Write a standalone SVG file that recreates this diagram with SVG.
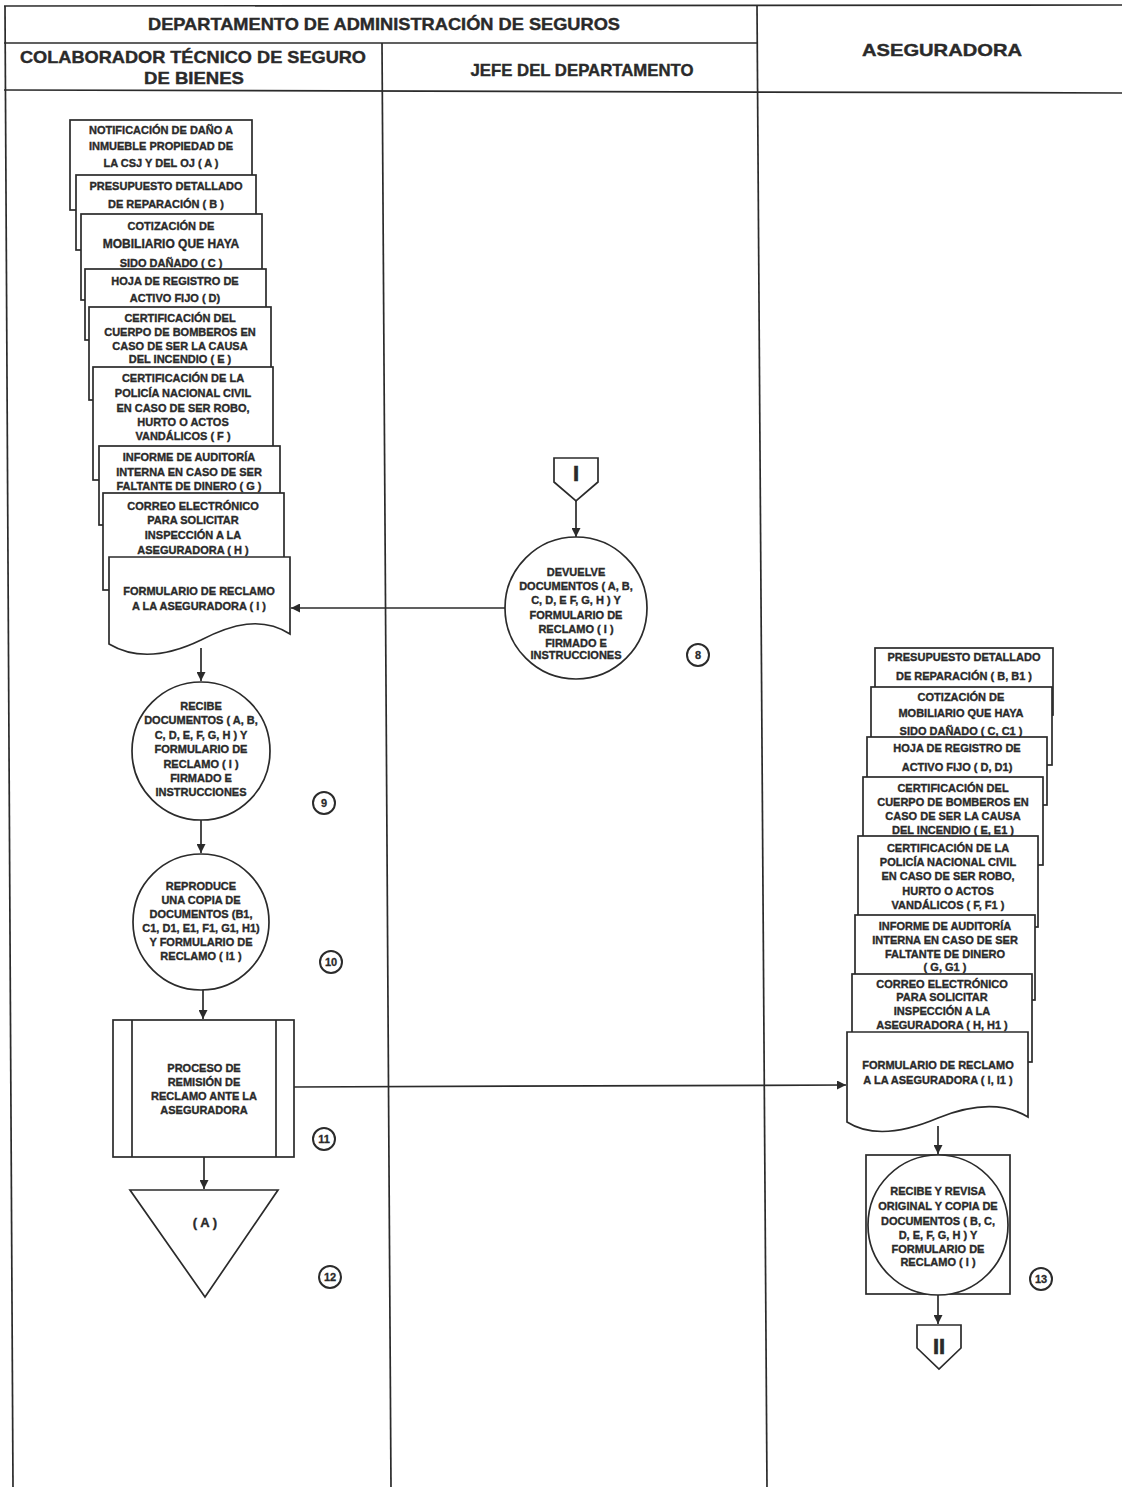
<svg xmlns="http://www.w3.org/2000/svg" width="1122" height="1487" viewBox="0 0 1122 1487">
<style>
.bg{fill:#fff}
.ln{stroke:#2b2b2b;stroke-width:1.7;fill:none}
.shp{stroke:#2b2b2b;stroke-width:1.7;fill:#fff}
.num{stroke:#2b2b2b;stroke-width:2;fill:#fff}
.hd{font-family:"Liberation Sans",Arial,sans-serif;font-weight:bold;font-size:17px;fill:#2a2a2a;stroke:#2a2a2a;stroke-width:0.4;text-anchor:middle}
.t{font-family:"Liberation Sans",Arial,sans-serif;font-weight:bold;font-size:11px;fill:#2a2a2a;stroke:#2a2a2a;stroke-width:0.35;text-anchor:middle}
.n{font-family:"Liberation Sans",Arial,sans-serif;font-weight:bold;font-size:11px;fill:#2a2a2a;stroke:#2a2a2a;stroke-width:0.3;text-anchor:middle}
.big{font-family:"Liberation Sans",Arial,sans-serif;font-weight:bold;font-size:22px;fill:#2a2a2a;stroke:#2a2a2a;stroke-width:0.6;text-anchor:middle}
.cn{stroke:#2b2b2b;stroke-width:1.7;fill:none}
</style>
<defs>
<marker id="ah" viewBox="0 0 10 10" refX="10" refY="5" markerWidth="9" markerHeight="9" orient="auto" markerUnits="userSpaceOnUse">
<path d="M0,0 L10,5 L0,10 Z" fill="#2b2b2b"/>
</marker>
</defs>
<rect class="bg" x="0" y="0" width="1122" height="1487"/>

<g id="lanes">
<line class="ln" x1="4" y1="6" x2="1122" y2="5"/>
<line class="ln" x1="4" y1="43" x2="757" y2="43"/>
<line class="ln" x1="4" y1="90" x2="1122" y2="93"/>
<line class="ln" x1="5" y1="6" x2="13" y2="1487"/>
<line class="ln" x1="382" y1="43" x2="391" y2="1487"/>
<line class="ln" x1="757" y1="5" x2="767" y2="1487"/>
<text class="hd" x="384" y="30" textLength="472" lengthAdjust="spacingAndGlyphs">DEPARTAMENTO DE ADMINISTRACIÓN DE SEGUROS</text>
<text class="hd" x="193" y="63" textLength="346" lengthAdjust="spacingAndGlyphs">COLABORADOR TÉCNICO DE SEGURO</text>
<text class="hd" x="194" y="84" textLength="100" lengthAdjust="spacingAndGlyphs">DE BIENES</text>
<text class="hd" x="582" y="76" textLength="223" lengthAdjust="spacingAndGlyphs">JEFE DEL DEPARTAMENTO</text>
<text class="hd" x="942" y="56" textLength="160" lengthAdjust="spacingAndGlyphs">ASEGURADORA</text>
</g>

<g id="connectors">
<line class="cn" x1="576" y1="501" x2="576" y2="537" marker-end="url(#ah)"/>
<line class="cn" x1="505" y1="608" x2="291" y2="608" marker-end="url(#ah)"/>
<line class="cn" x1="201" y1="648" x2="201" y2="681" marker-end="url(#ah)"/>
<line class="cn" x1="201" y1="820" x2="201" y2="853" marker-end="url(#ah)"/>
<line class="cn" x1="203" y1="990" x2="203" y2="1019" marker-end="url(#ah)"/>
<line class="cn" x1="204" y1="1157" x2="204" y2="1189" marker-end="url(#ah)"/>
<line class="cn" x1="294" y1="1087" x2="846" y2="1085" marker-end="url(#ah)"/>
<line class="cn" x1="938" y1="1126" x2="938" y2="1154" marker-end="url(#ah)"/>
<line class="cn" x1="938" y1="1294" x2="938" y2="1324" marker-end="url(#ah)"/>
</g>

<g id="docs-left">
<g id="docA"><rect class="shp" x="70" y="120" width="182" height="90"/>
<text class="t" x="161" y="134">NOTIFICACIÓN DE DAÑO A</text><text class="t" x="161" y="150">INMUEBLE PROPIEDAD DE</text><text class="t" x="161" y="167">LA CSJ Y DEL OJ ( A )</text></g>
<g id="docB"><rect class="shp" x="76" y="175" width="180" height="75"/>
<text class="t" x="166" y="190">PRESUPUESTO DETALLADO</text><text class="t" x="166" y="208">DE REPARACIÓN ( B )</text></g>
<g id="docC"><rect class="shp" x="81" y="214" width="181" height="86"/>
<text class="t" x="171" y="230">COTIZACIÓN DE</text><text class="t" x="171" y="248" style="font-size:12px">MOBILIARIO QUE HAYA</text><text class="t" x="171" y="267">SIDO DAÑADO ( C )</text></g>
<g id="docD"><rect class="shp" x="85" y="269" width="181" height="71"/>
<text class="t" x="175" y="285">HOJA DE REGISTRO DE</text><text class="t" x="175" y="302">ACTIVO FIJO ( D)</text></g>
<g id="docE"><rect class="shp" x="89" y="307" width="182" height="93"/>
<text class="t" x="180" y="322">CERTIFICACIÓN DEL</text><text class="t" x="180" y="336">CUERPO DE BOMBEROS EN</text><text class="t" x="180" y="350">CASO DE SER LA CAUSA</text><text class="t" x="180" y="363">DEL INCENDIO ( E )</text></g>
<g id="docF"><rect class="shp" x="93" y="367" width="180" height="113"/>
<text class="t" x="183" y="382">CERTIFICACIÓN DE LA</text><text class="t" x="183" y="397">POLICÍA NACIONAL CIVIL</text><text class="t" x="183" y="412">EN CASO DE SER ROBO,</text><text class="t" x="183" y="426">HURTO O ACTOS</text><text class="t" x="183" y="440">VANDÁLICOS ( F )</text></g>
<g id="docG"><rect class="shp" x="99" y="446" width="181" height="79"/>
<text class="t" x="189" y="461">INFORME DE AUDITORÍA</text><text class="t" x="189" y="476">INTERNA EN CASO DE SER</text><text class="t" x="189" y="490">FALTANTE DE DINERO ( G )</text></g>
<g id="docH"><rect class="shp" x="103" y="493" width="181" height="97"/>
<text class="t" x="193" y="510">CORREO ELECTRÓNICO</text><text class="t" x="193" y="524">PARA SOLICITAR</text><text class="t" x="193" y="539">INSPECCIÓN A LA</text><text class="t" x="193" y="554">ASEGURADORA ( H )</text></g>
<g id="docI"><path class="shp" d="M109,557 H290 V634 C262,616 232,624 201,640 C168,656 136,660 109,644 Z"/>
<text class="t" x="199" y="595">FORMULARIO DE RECLAMO</text><text class="t" x="199" y="610">A LA ASEGURADORA ( I )</text></g>
</g>

<g id="conn-I">
<path class="shp" d="M554,458 H598 V482 L576,501 L554,482 Z"/>
<text class="big" x="576" y="481">I</text>
</g>

<g id="step8">
<circle class="shp" cx="576" cy="608" r="71"/>
<text class="t" x="576" y="576">DEVUELVE</text><text class="t" x="576" y="590">DOCUMENTOS ( A, B,</text><text class="t" x="576" y="604">C, D, E F, G, H ) Y</text><text class="t" x="576" y="619">FORMULARIO DE</text><text class="t" x="576" y="633">RECLAMO ( I )</text><text class="t" x="576" y="647">FIRMADO E</text><text class="t" x="576" y="659">INSTRUCCIONES</text>
<circle class="num" cx="698" cy="655" r="11"/><text class="n" x="698" y="659">8</text>
</g>

<g id="step9">
<circle class="shp" cx="201" cy="751" r="69"/>
<text class="t" x="201" y="710">RECIBE</text><text class="t" x="201" y="724">DOCUMENTOS ( A, B,</text><text class="t" x="201" y="739">C, D, E, F, G, H ) Y</text><text class="t" x="201" y="753">FORMULARIO DE</text><text class="t" x="201" y="768">RECLAMO ( I )</text><text class="t" x="201" y="782">FIRMADO E</text><text class="t" x="201" y="796">INSTRUCCIONES</text>
<circle class="num" cx="324" cy="803" r="11"/><text class="n" x="324" y="807">9</text>
</g>

<g id="step10">
<circle class="shp" cx="201" cy="922" r="68"/>
<text class="t" x="201" y="890">REPRODUCE</text><text class="t" x="201" y="904">UNA COPIA DE</text><text class="t" x="201" y="918">DOCUMENTOS (B1,</text><text class="t" x="201" y="932">C1, D1, E1, F1, G1, H1)</text><text class="t" x="201" y="946">Y FORMULARIO DE</text><text class="t" x="201" y="960">RECLAMO ( I1 )</text>
<circle class="num" cx="331" cy="962" r="11"/><text class="n" x="331" y="966">10</text>
</g>

<g id="step11">
<rect class="shp" x="113" y="1020" width="181" height="137"/>
<line class="ln" x1="132" y1="1020" x2="132" y2="1157"/>
<line class="ln" x1="276" y1="1020" x2="276" y2="1157"/>
<text class="t" x="204" y="1072">PROCESO DE</text><text class="t" x="204" y="1086">REMISIÓN DE</text><text class="t" x="204" y="1100">RECLAMO ANTE LA</text><text class="t" x="204" y="1114">ASEGURADORA</text>
<circle class="num" cx="324" cy="1139" r="11"/><text class="n" x="324" y="1143">11</text>
</g>

<g id="step12">
<path class="shp" d="M130,1190 H278 L205,1297 Z"/>
<text class="t" x="205" y="1227" style="font-size:13px">( A )</text>
<circle class="num" cx="330" cy="1277" r="11"/><text class="n" x="330" y="1281">12</text>
</g>

<g id="docs-right">
<g id="rdocB"><rect class="shp" x="875" y="648" width="178" height="67"/>
<text class="t" x="964" y="661">PRESUPUESTO DETALLADO</text><text class="t" x="964" y="680">DE REPARACIÓN ( B, B1 )</text></g>
<g id="rdocC"><rect class="shp" x="871" y="687" width="181" height="78"/>
<text class="t" x="961" y="701">COTIZACIÓN DE</text><text class="t" x="961" y="717">MOBILIARIO QUE HAYA</text><text class="t" x="961" y="735">SIDO DAÑADO ( C, C1 )</text></g>
<g id="rdocD"><rect class="shp" x="867" y="737" width="180" height="68"/>
<text class="t" x="957" y="752">HOJA DE REGISTRO DE</text><text class="t" x="957" y="771">ACTIVO FIJO ( D, D1)</text></g>
<g id="rdocE"><rect class="shp" x="863" y="777" width="180" height="88"/>
<text class="t" x="953" y="792">CERTIFICACIÓN DEL</text><text class="t" x="953" y="806">CUERPO DE BOMBEROS EN</text><text class="t" x="953" y="820">CASO DE SER LA CAUSA</text><text class="t" x="953" y="834">DEL INCENDIO ( E, E1 )</text></g>
<g id="rdocF"><rect class="shp" x="858" y="836" width="180" height="91"/>
<text class="t" x="948" y="852">CERTIFICACIÓN DE LA</text><text class="t" x="948" y="866">POLICÍA NACIONAL CIVIL</text><text class="t" x="948" y="880">EN CASO DE SER ROBO,</text><text class="t" x="948" y="895">HURTO O ACTOS</text><text class="t" x="948" y="909">VANDÁLICOS ( F, F1 )</text></g>
<g id="rdocG"><rect class="shp" x="855" y="915" width="180" height="85"/>
<text class="t" x="945" y="930">INFORME DE AUDITORÍA</text><text class="t" x="945" y="944">INTERNA EN CASO DE SER</text><text class="t" x="945" y="958">FALTANTE DE DINERO</text><text class="t" x="945" y="971">( G, G1 )</text></g>
<g id="rdocH"><rect class="shp" x="852" y="974" width="180" height="88"/>
<text class="t" x="942" y="988">CORREO ELECTRÓNICO</text><text class="t" x="942" y="1001">PARA SOLICITAR</text><text class="t" x="942" y="1015">INSPECCIÓN A LA</text><text class="t" x="942" y="1029">ASEGURADORA ( H, H1 )</text></g>
<g id="rdocI"><path class="shp" d="M847,1032 H1028 V1117 C1000,1100 968,1106 938,1118 C905,1132 872,1138 847,1122 Z"/>
<text class="t" x="938" y="1069">FORMULARIO DE RECLAMO</text><text class="t" x="938" y="1084">A LA ASEGURADORA ( I, I1 )</text></g>
</g>

<g id="step13">
<rect class="shp" x="866" y="1155" width="144" height="139"/>
<circle class="shp" cx="938" cy="1225" r="70"/>
<text class="t" x="938" y="1195">RECIBE Y REVISA</text><text class="t" x="938" y="1210">ORIGINAL Y COPIA DE</text><text class="t" x="938" y="1225">DOCUMENTOS ( B, C,</text><text class="t" x="938" y="1239">D, E, F, G, H ) Y</text><text class="t" x="938" y="1253">FORMULARIO DE</text><text class="t" x="938" y="1266">RECLAMO ( I )</text>
<circle class="num" cx="1041" cy="1279" r="11"/><text class="n" x="1041" y="1283">13</text>
</g>

<g id="conn-II">
<path class="shp" d="M917,1325 H961 V1348 L939,1369 L917,1348 Z"/>
<text class="big" x="939" y="1354">II</text>
</g>
</svg>
